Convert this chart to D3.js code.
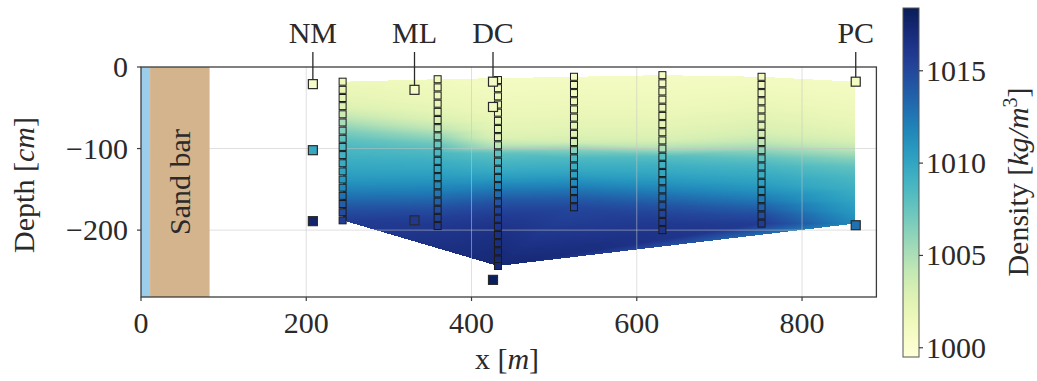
<!DOCTYPE html>
<html>
<head>
<meta charset="utf-8">
<script src="https://cdn.jsdelivr.net/npm/d3@7"></script>
<style>
  body { margin: 0; background: #fff; }
  svg { display: block; }
  text { font-family: "Liberation Serif", "Times New Roman", serif; fill: #2a2a2a; }
</style>
</head>
<body>
<svg id="chart" width="1037" height="381"></svg>
<script>
// ---- CTD casts (x in m) ----
const profileX = [244, 359, 432, 524, 631, 751, 864];

// depth [cm] and density [kg/m^3] per cast
const depthP1 = [-18, -28, -38, -48, -58, -68, -78, -88, -98, -108, -118, -128, -138, -148, -158, -168, -178, -188];
const rhoP1   = [1001.6, 1001.9, 1002.2, 1002.7, 1003.8, 1005.2, 1006.6, 1007.8, 1008.6, 1009.1, 1009.6, 1010.1, 1010.8, 1011.7, 1012.7, 1013.8, 1014.8, 1015.6];

const depthP2 = [-15, -25, -35, -45, -55, -65, -75, -85, -95, -105, -115, -125, -135, -145, -155, -165, -175, -185, -195];
const rhoP2   = [1001.2, 1001.4, 1001.6, 1001.9, 1002.3, 1003.0, 1004.2, 1005.8, 1007.4, 1008.6, 1009.3, 1009.9, 1010.6, 1011.5, 1012.5, 1013.6, 1014.7, 1015.5, 1016.0];

const depthP3 = [-16, -26, -36, -46, -56, -66, -76, -86, -96, -106, -116, -126, -136, -146, -156, -166, -176, -186, -196, -206, -216, -226, -236, -244];
const rhoP3   = [1000.9, 1001.1, 1001.3, 1001.5, 1001.7, 1002.0, 1002.3, 1002.8, 1004.5, 1007.8, 1008.8, 1009.6, 1010.6, 1011.9, 1013.2, 1014.4, 1015.3, 1015.9, 1016.3, 1016.6, 1016.8, 1017.0, 1017.2, 1017.3];

const depthP4 = [-12, -22, -32, -42, -52, -62, -72, -82, -92, -102, -112, -122, -132, -142, -152, -162, -172];
const rhoP4   = [1000.9, 1001.1, 1001.3, 1001.5, 1001.7, 1002.0, 1002.3, 1002.7, 1003.5, 1006.5, 1008.6, 1009.4, 1010.3, 1011.5, 1012.8, 1014.0, 1015.0];

const depthP5 = [-10, -20, -30, -40, -50, -60, -70, -80, -90, -100, -110, -120, -130, -140, -150, -160, -170, -180, -190, -200];
const rhoP5   = [1000.9, 1001.0, 1001.2, 1001.4, 1001.6, 1001.9, 1002.2, 1002.6, 1003.2, 1005.0, 1008.2, 1009.2, 1009.9, 1010.8, 1011.9, 1013.1, 1014.3, 1015.2, 1015.8, 1016.2];

const depthP6 = [-12, -22, -32, -42, -52, -62, -72, -82, -92, -102, -112, -122, -132, -142, -152, -162, -172, -182, -192];
const rhoP6   = [1001.0, 1001.2, 1001.4, 1001.7, 1002.0, 1002.4, 1002.8, 1003.3, 1004.3, 1006.0, 1007.8, 1008.9, 1009.6, 1010.3, 1011.2, 1012.3, 1013.6, 1014.8, 1015.7];

// eastern boundary of the section (field only, no square markers)
const depthP7 = [-18, -35, -50, -65, -80, -92, -102, -112, -122, -135, -150, -165, -180, -192];
const rhoP7   = [1000.9, 1001.2, 1001.5, 1001.9, 1002.5, 1003.3, 1004.6, 1006.3, 1007.7, 1008.7, 1009.4, 1010.1, 1010.9, 1011.6];

// ---- named stations ----
const stationNames = ["NM", "ML", "DC", "PC"];
const stationX = [208, 331, 426, 865];
const depthNM = [-21, -102, -189];
const rhoNM   = [1000.6, 1009.8, 1017.6];
const depthML = [-28, -188];
const rhoML   = [1000.8, 1016.0];
const depthDC = [-18, -49, -261];
const rhoDC   = [1000.7, 1001.0, 1018.2];
const depthPC = [-18, -194];
const rhoPC   = [1000.9, 1012.8];

// ---- axes ----
const xTicks = [0, 200, 400, 600, 800];
const yTicks = [0, -100, -200];
const cbTicks = [1000, 1005, 1010, 1015];
const sandSpan = [11, 83];
const waterSpan = [0, 11];

const W = 1037, H = 381;
const svg = d3.select("#chart");

const x = d3.scaleLinear().domain([0, 890]).range([141, 876.4]);
const y = d3.scaleLinear().domain([-282, 0]).range([297, 67]);
const color = d3.scaleSequential(d3.interpolateYlGnBu).domain([999.5, 1018.4]);

const profileDepths = [depthP1, depthP2, depthP3, depthP4, depthP5, depthP6, depthP7];
const profileRhos   = [rhoP1, rhoP2, rhoP3, rhoP4, rhoP5, rhoP6, rhoP7];

const pts = [];
profileX.forEach((px, i) => {
  profileDepths[i].forEach((d, j) => pts.push({ x: px, d: d, r: profileRhos[i][j] }));
});

// ---- linearly interpolated density field on a Delaunay triangulation ----
const [c0, c1] = color.domain();
const lut = d3.range(1024).map(k => d3.rgb(color(c0 + (c1 - c0) * k / 1023)));
const canvas = document.createElement("canvas");
canvas.width = W; canvas.height = H;
const ctx = canvas.getContext("2d");
const img = ctx.createImageData(W, H);
const delaunay = d3.Delaunay.from(pts, p => p.x, p => p.d);
const tri = delaunay.triangles;
for (let t = 0; t < tri.length; t += 3) {
  const a = pts[tri[t]], b = pts[tri[t + 1]], c = pts[tri[t + 2]];
  const ax = x(a.x), ay = y(a.d), bx = x(b.x), by = y(b.d), cx = x(c.x), cy = y(c.d);
  const det = (by - cy) * (ax - cx) + (cx - bx) * (ay - cy);
  if (Math.abs(det) < 1e-6) continue;
  const x0 = Math.floor(Math.min(ax, bx, cx)), x1 = Math.ceil(Math.max(ax, bx, cx));
  const y0 = Math.floor(Math.min(ay, by, cy)), y1 = Math.ceil(Math.max(ay, by, cy));
  for (let py = y0; py <= y1; py++) {
    for (let px = x0; px <= x1; px++) {
      const sx = px + 0.5, sy = py + 0.5;
      const w0 = ((by - cy) * (sx - cx) + (cx - bx) * (sy - cy)) / det;
      const w1 = ((cy - ay) * (sx - cx) + (ax - cx) * (sy - cy)) / det;
      const w2 = 1 - w0 - w1;
      if (w0 < -1e-6 || w1 < -1e-6 || w2 < -1e-6) continue;
      const v = w0 * a.r + w1 * b.r + w2 * c.r;
      const k = Math.max(0, Math.min(1023, Math.round((v - c0) / (c1 - c0) * 1023)));
      const col = lut[k];
      const o = (py * W + px) * 4;
      img.data[o] = col.r; img.data[o + 1] = col.g; img.data[o + 2] = col.b; img.data[o + 3] = 255;
    }
  }
}
ctx.putImageData(img, 0, 0);
svg.append("image").attr("x", 0).attr("y", 0).attr("width", W).attr("height", H)
  .attr("href", canvas.toDataURL());

// ---- grid ----
const grid = svg.append("g").attr("stroke", "#c4c4c4").attr("stroke-opacity", 0.55).attr("stroke-width", 1);
grid.selectAll("line.gx").data(xTicks.slice(1)).join("line")
  .attr("x1", d => x(d)).attr("x2", d => x(d)).attr("y1", y.range()[0]).attr("y2", y.range()[1]);
grid.selectAll("line.gy").data(yTicks.slice(1)).join("line")
  .attr("x1", x.range()[0]).attr("x2", x.range()[1]).attr("y1", d => y(d)).attr("y2", d => y(d));

// ---- water and sand bar ----
svg.append("rect").attr("x", x(waterSpan[0])).attr("width", x(waterSpan[1]) - x(waterSpan[0]))
  .attr("y", y.range()[1]).attr("height", y.range()[0] - y.range()[1]).attr("fill", "#9ccdea");
svg.append("rect").attr("x", x(sandSpan[0])).attr("width", x(sandSpan[1]) - x(sandSpan[0]))
  .attr("y", y.range()[1]).attr("height", y.range()[0] - y.range()[1]).attr("fill", "#d4b48c");
svg.append("text")
  .attr("transform", `translate(${x((sandSpan[0] + sandSpan[1]) / 2) + 10},${(y.range()[0] + y.range()[1]) / 2}) rotate(-90)`)
  .attr("text-anchor", "middle").attr("font-size", 30).text("Sand bar");

// ---- frame ----
svg.append("rect").attr("x", x.range()[0]).attr("y", y.range()[1])
  .attr("width", x.range()[1] - x.range()[0]).attr("height", y.range()[0] - y.range()[1])
  .attr("fill", "none").attr("stroke", "#3c3c3c").attr("stroke-width", 1.3);

// x axis
const xa = svg.append("g");
xa.selectAll("line").data(xTicks).join("line")
  .attr("x1", d => x(d)).attr("x2", d => x(d)).attr("y1", y.range()[0]).attr("y2", y.range()[0] + 4)
  .attr("stroke", "#3c3c3c").attr("stroke-width", 1.2);
xa.selectAll("text").data(xTicks).join("text")
  .attr("x", d => x(d)).attr("y", 333).attr("text-anchor", "middle").attr("font-size", 30).text(d => d);
const xl = svg.append("text").attr("x", 507).attr("y", 369).attr("text-anchor", "middle").attr("font-size", 30);
xl.append("tspan").text("x [");
xl.append("tspan").attr("font-style", "italic").text("m");
xl.append("tspan").text("]");

// y axis
const ya = svg.append("g");
ya.selectAll("line").data(yTicks).join("line")
  .attr("x1", x.range()[0] - 4).attr("x2", x.range()[0]).attr("y1", d => y(d)).attr("y2", d => y(d))
  .attr("stroke", "#3c3c3c").attr("stroke-width", 1.2);
ya.selectAll("text").data(yTicks).join("text")
  .attr("x", 128).attr("y", d => y(d) + 10).attr("text-anchor", "end").attr("font-size", 30)
  .text(d => d < 0 ? "\u2212" + Math.abs(d) : d);
const yl = svg.append("text").attr("transform", "translate(34,185) rotate(-90)")
  .attr("text-anchor", "middle").attr("font-size", 30);
yl.append("tspan").text("Depth [");
yl.append("tspan").attr("font-style", "italic").text("cm");
yl.append("tspan").text("]");

// ---- cast markers ----
const SQ = 7;
const mk = svg.append("g").attr("stroke", "#1a1a1a").attr("stroke-width", 1);
profileX.slice(0, 6).forEach((px, i) => {
  mk.selectAll(null).data(profileDepths[i].map((d, j) => ({ d, r: profileRhos[i][j] }))).join("rect")
    .attr("x", x(px) - SQ / 2).attr("y", p => y(p.d) - SQ / 2).attr("width", SQ).attr("height", SQ)
    .attr("fill", p => color(p.r));
});

// ---- named stations ----
const stDepths = [depthNM, depthML, depthDC, depthPC];
const stRhos = [rhoNM, rhoML, rhoDC, rhoPC];
const st = svg.append("g");
stationNames.forEach((name, i) => {
  const sx = x(stationX[i]);
  st.append("line").attr("x1", sx).attr("x2", sx).attr("y1", 52).attr("y2", y(stDepths[i][0]))
    .attr("stroke", "#2a2a2a").attr("stroke-width", 1.3);
  st.selectAll(null).data(stDepths[i].map((d, j) => ({ d, r: stRhos[i][j] }))).join("rect")
    .attr("x", sx - 4.5).attr("y", p => y(p.d) - 4.5).attr("width", 9).attr("height", 9)
    .attr("fill", p => color(p.r)).attr("stroke", "#2a2a2a").attr("stroke-width", 1.2);
  st.append("text").attr("x", sx).attr("y", 43).attr("text-anchor", "middle").attr("font-size", 30).text(name);
});

// ---- colour bar ----
const cb = d3.scaleLinear().domain(color.domain()).range([357, 8]);
const grad = svg.append("defs").append("linearGradient").attr("id", "cbg")
  .attr("x1", 0).attr("x2", 0).attr("y1", 1).attr("y2", 0);
d3.range(0, 1.0001, 0.05).forEach(t => {
  grad.append("stop").attr("offset", t).attr("stop-color", color(c0 + (c1 - c0) * t));
});
svg.append("rect").attr("x", 903).attr("y", cb.range()[1]).attr("width", 16)
  .attr("height", cb.range()[0] - cb.range()[1]).attr("fill", "url(#cbg)")
  .attr("stroke", "#555").attr("stroke-width", 1);
const cba = svg.append("g");
cba.selectAll("line").data(cbTicks).join("line")
  .attr("x1", 919).attr("x2", 923).attr("y1", d => cb(d)).attr("y2", d => cb(d))
  .attr("stroke", "#3c3c3c").attr("stroke-width", 1.2);
cba.selectAll("text").data(cbTicks).join("text")
  .attr("x", 926).attr("y", d => cb(d) + 10).attr("font-size", 30).text(d => d);
const cl = svg.append("text").attr("transform", "translate(1028,182) rotate(-90)")
  .attr("text-anchor", "middle").attr("font-size", 30);
cl.append("tspan").text("Density [");
cl.append("tspan").attr("font-style", "italic").text("kg/m");
cl.append("tspan").attr("font-size", 20).attr("dy", -11).text("3");
cl.append("tspan").attr("dy", 11).text("]");
</script>
</body>
</html>
